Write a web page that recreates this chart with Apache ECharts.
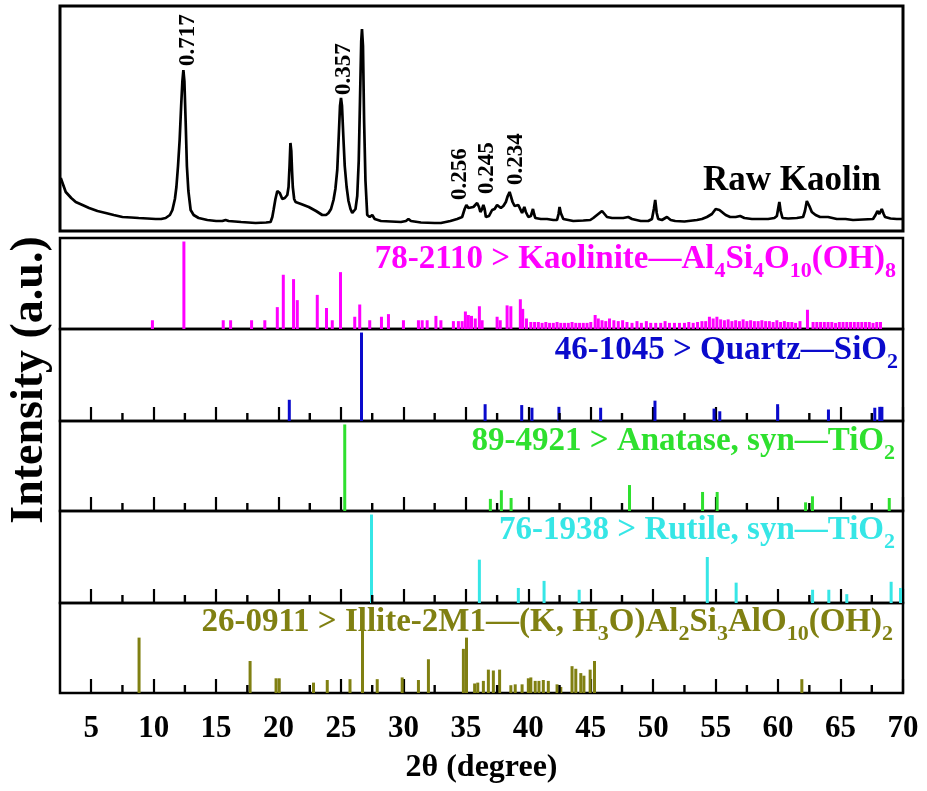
<!DOCTYPE html>
<html><head><meta charset="utf-8">
<script src="https://cdn.jsdelivr.net/npm/echarts@6/dist/echarts.min.js"></script>
<style>html,body{margin:0;padding:0;background:#fff}#c{width:927px;height:791px}</style>
</head><body><div id="c"></div>
<script>
// ---------- data ----------
// Raw kaolin XRD pattern: [2theta, intensity (a.u.)]
const rawKaolin = [[2.56,53],[2.96,39],[3.4,33],[3.76,29],[4.3,26],[4.83,23],[5.5,20],[6.16,18],[6.8,16],[7.5,14],[8.2,13.5],[8.8,13],[9.5,12.5],[10.16,12],[10.6,12],[10.96,13],[11.3,16],[11.5,21],[11.7,32],[11.82,44],[11.95,65],[12.08,91],[12.2,125],[12.3,150],[12.38,161],[12.46,150],[12.56,110],[12.66,65],[12.78,40],[12.96,21],[13.2,16],[13.6,13],[14.3,11],[15.0,10],[15.5,10],[15.76,11],[16.0,10],[17.0,9],[18.16,8],[19.0,8.5],[19.36,9],[19.5,14],[19.6,21],[19.75,32],[19.9,40],[19.98,41],[20.1,38],[20.3,32],[20.5,33],[20.7,36],[20.8,44],[20.88,65],[20.95,88],[21.02,80],[21.08,60],[21.14,44],[21.25,32],[21.36,29],[21.8,27],[22.42,24],[23.0,20],[23.5,16],[23.8,16],[24.0,18],[24.2,22],[24.4,31],[24.55,42],[24.7,61],[24.82,95],[24.92,125],[25.0,133],[25.08,125],[25.2,91],[25.3,65],[25.45,44],[25.6,30],[25.76,22],[25.9,18],[26.05,19],[26.16,22],[26.3,35],[26.42,70],[26.52,130],[26.62,190],[26.68,202],[26.76,185],[26.85,110],[26.96,50],[27.1,16],[27.3,14],[27.5,16],[27.7,12],[28.2,10],[29.0,9.5],[29.8,9],[30.2,10],[30.4,12],[30.6,10],[31.4,8.5],[32.5,8],[33.0,8],[33.76,10],[34.3,12],[34.7,14],[34.9,22],[35.04,26],[35.2,23],[35.36,21],[35.6,24],[35.75,22],[35.9,28],[36.05,24],[36.16,19],[36.3,22],[36.4,26],[36.5,22],[36.6,14],[36.85,15],[37.1,21],[37.3,22],[37.5,26],[37.65,24],[37.8,23],[38.0,25],[38.2,29],[38.35,35],[38.5,39],[38.62,34],[38.74,29],[38.9,25],[39.04,24],[39.2,26],[39.3,25],[39.5,18],[39.6,20],[39.68,24],[39.8,19],[40.0,14],[40.2,15],[40.37,22],[40.46,17],[40.56,13],[41.0,12],[41.5,12],[42.0,11],[42.3,11],[42.42,17],[42.5,24],[42.6,18],[42.8,12],[43.6,10],[44.4,10.5],[44.96,11],[45.2,13],[45.5,16],[45.7,18],[45.9,20],[46.1,17],[46.3,14],[46.7,13],[47.1,13],[47.6,13],[48.0,14],[48.3,12],[49.0,10],[49.6,10],[49.9,12],[50.05,22],[50.16,31],[50.28,18],[50.4,12],[50.7,11],[51.1,14],[51.4,11],[51.76,10],[52.5,9.5],[53.5,11],[53.9,12],[54.3,14],[54.7,17],[55.0,22],[55.1,24],[55.3,21],[55.5,19],[55.8,16],[56.16,14],[56.6,14],[56.96,15],[57.3,13],[57.9,12],[58.56,12],[59.2,12],[59.7,13],[59.9,15],[60.0,22],[60.1,29],[60.2,20],[60.35,13],[60.8,12.5],[61.5,13],[62.0,14],[62.15,20],[62.3,30],[62.38,32],[62.5,25],[62.7,19],[63.0,16],[63.36,14],[64.0,14],[64.7,12],[65.4,12],[66.0,11],[66.8,11.5],[67.6,12],[67.8,16],[67.95,20],[68.1,17],[68.3,22],[68.45,17],[68.56,14],[69.0,12.5],[69.5,12],[70.0,12]];

// d-spacing labels (nm) and their anchor [2theta, intensity]
const peakLabels = [
  {text:'0.717', x:12.76, y:165},
  {text:'0.357', x:25.22, y:136},
  {text:'0.256', x:34.52, y:31},
  {text:'0.245', x:36.73, y:37},
  {text:'0.234', x:39.02, y:46}
];

// Reference patterns: [2theta, relative intensity]
const kaolinite = [[9.9,10],[12.42,100],[15.57,10],[16.16,10],[17.84,10],[18.9,10],[19.9,25],[20.38,62],[21.2,57],[21.5,33],[23.1,39],[23.84,24],[24.3,10],[24.96,65],[26.1,14],[26.5,28],[27.3,10],[28.24,14],[28.8,17],[30.0,10],[31.2,10],[31.5,10],[31.9,10],[32.6,15],[33.0,10],[34.0,9],[34.4,9],[34.7,9],[34.96,20],[35.2,16],[35.45,15],[35.75,12],[36.08,26],[36.3,10],[37.5,14],[37.75,10],[38.3,27],[38.6,26],[39.36,34],[39.55,23],
  [39.85,12],[40.2,8],[40.5,8],[40.8,8],[41.1,7],[41.4,8],[41.7,7],[42.0,7],[42.3,8],[42.6,7],[42.9,7],[43.2,7],[43.5,8],[43.8,7],[44.1,7],[44.4,7],[44.7,7],[45.0,8],[45.35,16],[45.6,12],[45.9,10],[46.2,9],[46.5,12],[46.85,10],[47.2,9],[47.55,10],[47.9,8],[48.3,7],[48.7,9],[49.05,7],[49.45,9],[49.8,7],[50.2,7],[50.6,7],[50.95,9],[51.3,7],[51.7,7],[52.1,7],[52.5,7],[52.85,8],[53.2,7],[53.55,8],[53.9,9],[54.2,9],[54.5,14],[54.8,12],[55.1,14],[55.4,11],[55.7,10],[56.0,11],[56.3,9],[56.6,10],[56.9,9],[57.2,11],[57.5,9],[57.8,10],[58.1,9],[58.4,9],[58.7,10],[59.0,9],[59.3,9],[59.6,8],[59.9,10],[60.2,8],[60.5,9],[60.8,8],[61.1,8],[61.4,7],[61.75,9],[62.35,22],[62.8,8],[63.1,8],[63.4,8],[63.7,8],[64.0,8],[64.3,8],[64.6,7],[64.9,8],[65.2,8],[65.5,8],[65.8,8],[66.1,8],[66.4,8],[66.7,8],[67.0,8],[67.3,8],[67.6,7],[67.9,8],[68.2,8]];
const quartz = [[20.86,24],[26.64,100],[36.54,19],[39.47,18],[40.29,15],[42.45,16],[45.79,15],[50.14,23],[54.87,14],[55.33,11],[59.96,19],[64.03,13],[67.74,15],[68.14,16],[68.31,16]];
const anatase = [[25.3,100],[36.96,14],[37.84,24],[38.62,15],[48.1,30],[53.95,22],[55.12,22],[62.2,10],[62.75,17],[68.9,15]];
const rutile = [[27.44,100],[36.08,49],[39.2,17],[41.26,25],[44.07,15],[54.33,52],[56.64,23],[62.76,15],[64.06,15],[65.5,10],[69.05,24],[69.8,17]];
const illite = [[8.83,64],[17.72,37],[19.8,17],[20.05,17],[22.8,12],[23.9,15],[25.72,16],[26.72,73],[27.9,16],[29.9,18],[31.2,15],[32.0,39],[34.8,51],[35.05,64],[35.7,11],[35.95,12],[36.4,14],[36.8,27],[37.2,26],[37.7,27],[38.6,9],[38.95,10],[39.5,10],[40.0,17],[40.2,18],[40.55,14],[40.85,14],[41.2,15],[41.6,14],[42.3,10],[42.6,7],[43.5,31],[43.8,28],[44.2,23],[44.45,20],[44.95,27],[45.3,37],[61.9,16]];

const majorTicks = [5,10,15,20,25,30,35,40,45,50,55,60,65,70];
const minorTicks = [7.5,12.5,17.5,22.5,27.5,32.5,37.5,42.5,47.5,52.5,57.5,62.5,67.5];

// ---------- chart ----------
const FONT = 'Liberation Serif';
const X_MIN = 2.5, X_MAX = 70;
const LEFT = 60, RIGHT = 24;

function rich(color) {
  return {
    m: {fontFamily: FONT, fontWeight: 'bold', fontSize: 33, lineHeight: 45, color: color},
    s: {fontFamily: FONT, fontWeight: 'bold', fontSize: 22, lineHeight: 21, padding: [24, 0, 0, 0], color: color}
  };
}

const panels = [
  {data: kaolinite, color: '#ff00ff', ticks: false, top: 238, height: 91, labelTop: 237, labelRight: 31,
   label: '{m|78-2110 > Kaolinite\u2014Al}{s|4}{m|Si}{s|4}{m|O}{s|10}{m|(OH)}{s|8}'},
  {data: quartz, color: '#0a0acc', ticks: true, top: 329, height: 92, labelTop: 328, labelRight: 29,
   label: '{m|46-1045 > Quartz\u2014SiO}{s|2}'},
  {data: anatase, color: '#2ee02e', ticks: true, top: 421, height: 90, labelTop: 419, labelRight: 32,
   label: '{m|89-4921 > Anatase, syn\u2014TiO}{s|2}'},
  {data: rutile, color: '#36e6e6', ticks: true, top: 511, height: 92, labelTop: 508, labelRight: 32,
   label: '{m|76-1938 > Rutile, syn\u2014TiO}{s|2}'},
  {data: illite, color: '#808012', ticks: true, top: 603, height: 90, labelTop: 600, labelRight: 34,
   label: '{m|26-0911 > Illite-2M1\u2014(K, H}{s|3}{m|O)Al}{s|2}{m|Si}{s|3}{m|AlO}{s|10}{m|(OH)}{s|2}'}
];

const grids = [{left: LEFT, right: RIGHT, top: 6, height: 225, show: true, borderColor: '#000', borderWidth: 3, backgroundColor: 'transparent'}];
const xAxes = [{gridIndex: 0, type: 'value', min: X_MIN, max: X_MAX, axisLine: {show: false}, axisTick: {show: false}, axisLabel: {show: false}, splitLine: {show: false}}];
const yAxes = [{gridIndex: 0, type: 'value', min: 0, max: 225, show: false, splitLine: {show: false}}];
const series = [{
  type: 'line', xAxisIndex: 0, yAxisIndex: 0, data: rawKaolin, showSymbol: false, symbol: 'none',
  lineStyle: {color: '#000', width: 2.7}, z: 3
}];
const titles = [{
  text: 'Raw Kaolin', right: 46, top: 161, padding: 0,
  textStyle: {fontFamily: FONT, fontWeight: 'bold', fontSize: 35, lineHeight: 40, color: '#000'}
}];
const tickedGrids = [];

panels.forEach((p, i) => {
  const g = i + 1;
  const last = i === panels.length - 1;
  grids.push({left: LEFT, right: RIGHT, top: p.top, height: p.height, show: true, borderColor: '#000', borderWidth: 2.5, backgroundColor: 'transparent'});
  const xIdx = xAxes.length;
  xAxes.push({
    gridIndex: g, type: 'value', min: X_MIN, max: X_MAX, position: 'bottom',
    axisLine: {show: false}, splitLine: {show: false},
    axisTick: {show: p.ticks, inside: true, length: 14, customValues: majorTicks, lineStyle: {color: '#000', width: 2.2}},
    axisLabel: {show: last, customValues: majorTicks, fontFamily: FONT, fontWeight: 'bold', fontSize: 31, color: '#000', margin: 20},
    name: last ? '2\u03b8 (degree)' : '', nameLocation: 'middle', nameGap: 59,
    nameTextStyle: {fontFamily: FONT, fontWeight: 'bold', fontSize: 32, color: '#000'}
  });
  const yIdx = yAxes.length;
  yAxes.push({gridIndex: g, type: 'value', min: 0, max: 104, show: false, splitLine: {show: false}});
  series.push({
    type: 'bar', xAxisIndex: xIdx, yAxisIndex: yIdx, data: p.data, barWidth: 3,
    itemStyle: {color: p.color}, z: 3
  });
  if (p.ticks) tickedGrids.push(g);
  titles.push({text: p.label, right: p.labelRight, top: p.labelTop, padding: 0, textStyle: {rich: rich(p.color)}, z: 5});
});

const chart = echarts.init(document.getElementById('c'), null, {renderer: 'canvas'});
chart.setOption({
  animation: false,
  backgroundColor: '#fff',
  title: titles,
  grid: grids,
  xAxis: xAxes,
  yAxis: yAxes,
  series: series
});

const graphics = [{
  type: 'text', x: 30, y: 380, rotation: Math.PI / 2, z: 10,
  style: {text: 'Intensity (a.u.)', font: 'bold 46px "Liberation Serif"', fill: '#000', align: 'center', verticalAlign: 'middle', textAlign: 'center', textVerticalAlign: 'middle'}
}];
peakLabels.forEach(p => {
  const pt = chart.convertToPixel({gridIndex: 0}, [p.x, p.y]);
  graphics.push({
    type: 'text', x: pt[0], y: pt[1], rotation: Math.PI / 2, z: 10,
    style: {text: p.text, font: 'bold 23px "Liberation Serif"', fill: '#000', align: 'left', verticalAlign: 'middle', textAlign: 'left', textVerticalAlign: 'middle'}
  });
});
// minor (half-step) tick marks, positioned through each panel's axis scale
tickedGrids.forEach(g => {
  minorTicks.forEach(v => {
    const pt = chart.convertToPixel({gridIndex: g}, [v, 0]);
    graphics.push({
      type: 'rect', z: 20, silent: true,
      shape: {x: pt[0] - 1.2, y: pt[1] - 8, width: 2.4, height: 8},
      style: {fill: '#000'}
    });
  });
});
chart.setOption({graphic: graphics});
</script>
</body></html>
